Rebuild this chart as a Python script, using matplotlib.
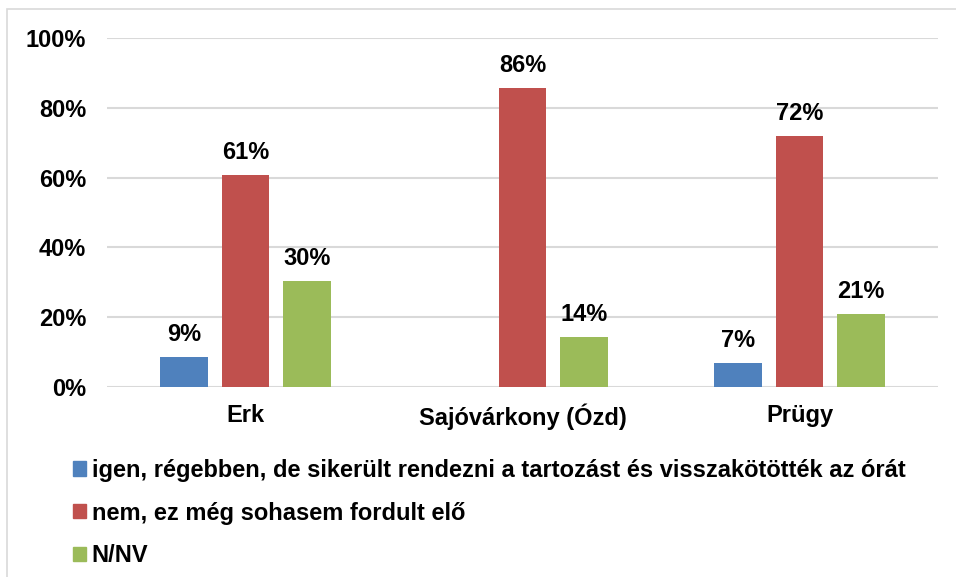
import numpy as np
import matplotlib.pyplot as plt
from matplotlib.patches import Patch, Rectangle

plt.rcParams['font.family'] = ['Liberation Sans', 'DejaVu Sans']
plt.rcParams['font.weight'] = 'bold'

categories = ['Erk', 'Sajóvárkony (Ózd)', 'Prügy']
series = ['igen, régebben, de sikerült rendezni a tartozást és visszakötötték az órát',
          'nem, ez még sohasem fordult elő',
          'N/NV']
igen = [8.7, 0, 6.9]
nem = [60.8, 85.7, 71.9]
nnv = [30.4, 14.3, 20.9]
labels_igen = ['9%', '', '7%']
labels_nem = ['61%', '86%', '72%']
labels_nnv = ['30%', '14%', '21%']
colors = ['#4f81bd', '#c0504d', '#9bbb59']

fig = plt.figure(figsize=(9.56, 5.77), dpi=100)
ax = fig.add_axes([107/956, 1-387/577, (938-107)/956, (387-38)/577])

# outer chart frame
fig.patches.append(Rectangle((7/956, -0.1), 1.2, 0.1 + 1 - 9/577, transform=fig.transFigure,
                             fill=False, edgecolor='#d9d9d9', linewidth=1.2))

x = np.arange(len(categories))
w = 0.173
step = 0.222
fs = 17
for i, (vals, labs) in enumerate([(igen, labels_igen), (nem, labels_nem), (nnv, labels_nnv)]):
    pos = x + (i - 1) * step
    ax.bar(pos, vals, width=w, color=colors[i], zorder=3)
    for p, v, lab in zip(pos, vals, labs):
        if lab:
            ax.annotate(lab, (p, v), xytext=(0, 8), textcoords='offset points',
                        ha='center', va='bottom', fontsize=fs, fontweight='bold')

ax.set_xlim(-0.5, 2.5)
ax.set_ylim(0, 100)
ax.set_yticks(range(0, 101, 20))
ax.set_yticklabels([f'{t}%' for t in range(0, 101, 20)])
ax.set_xticks(x)
ax.set_xticklabels(categories)
ax.tick_params(length=0, labelsize=fs, pad=15)
ax.tick_params(axis='x', pad=12)
ax.grid(axis='y', color='#d9d9d9', linewidth=1.5, zorder=0)
for s in ax.spines.values():
    s.set_visible(False)

handles = [Patch(color=c) for c in colors]
fig.legend(handles, series, loc='upper left', bbox_to_anchor=(61/956, 1-447/577),
           frameon=False, fontsize=fs, handlelength=0.55, handleheight=0.55,
           handletextpad=0.25, labelspacing=0.84, borderpad=0)

fig.savefig('out.png', dpi=100)
